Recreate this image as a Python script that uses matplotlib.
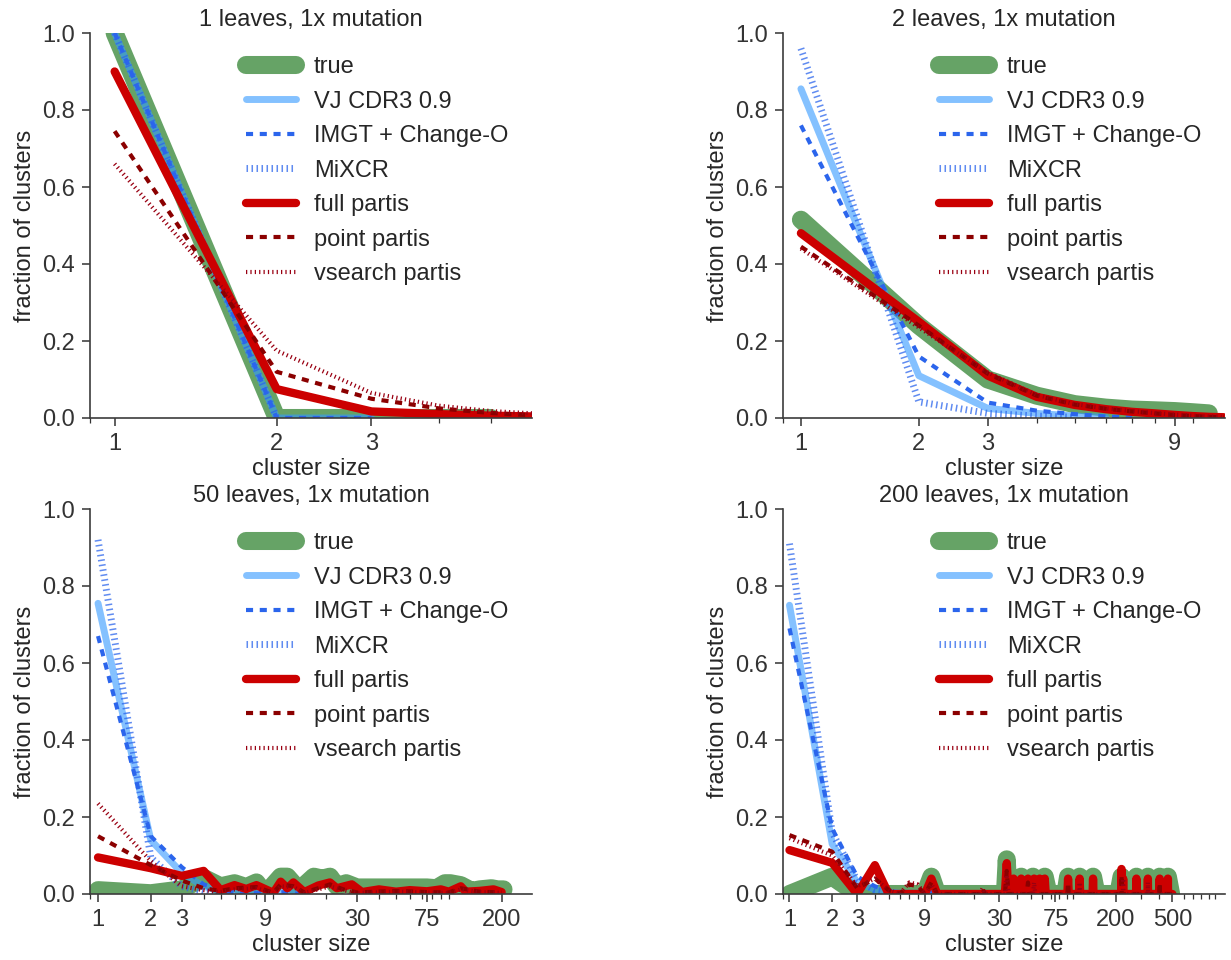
import matplotlib
matplotlib.use('Agg')
import matplotlib.pyplot as plt
import matplotlib.ticker as mticker
import numpy as np

plt.rcParams['font.family'] = ['Liberation Sans', 'DejaVu Sans']
plt.rcParams['text.color'] = '#262626'
plt.rcParams['axes.labelcolor'] = '#262626'
plt.rcParams['xtick.color'] = '#333333'
plt.rcParams['ytick.color'] = '#333333'

methods = ['true', 'VJ CDR3 0.9', 'IMGT + Change-O', 'MiXCR', 'full partis', 'point partis', 'vsearch partis']

# ---- 1 leaves ----
p1_true_x = [1, 2, 3, 4, 5]
p1_true = [1.0, 0.0, 0.0, 0.0, 0.0]
p1_vj_x = [1, 2, 3]
p1_vj = [1.0, 0.0, 0.0]
p1_imgt_x = [1, 2, 3]
p1_imgt = [1.0, 0.0, 0.0]
p1_mixcr_x = [1, 2]
p1_mixcr = [1.0, 0.0]
p1_part_x = [1, 2, 3, 4, 5, 6]
p1_full = [0.90, 0.075, 0.017, 0.010, 0.006, 0.004]
p1_point = [0.745, 0.12, 0.05, 0.025, 0.013, 0.007]
p1_vsearch = [0.66, 0.175, 0.065, 0.032, 0.018, 0.012]

# ---- 2 leaves ----
p2_true_x = [1, 2, 3, 4, 5, 6, 7, 8, 9, 10, 11]
p2_true = [0.515, 0.24, 0.10, 0.058, 0.036, 0.027, 0.022, 0.02, 0.018, 0.015, 0.012]
p2_vj_x = [1, 2, 3, 4, 5, 6]
p2_vj = [0.855, 0.11, 0.025, 0.012, 0.005, 0.002]
p2_imgt_x = [1, 2, 3, 4, 5, 6, 7]
p2_imgt = [0.76, 0.16, 0.04, 0.019, 0.01, 0.004, 0.001]
p2_mixcr_x = [1, 2, 3, 4, 5]
p2_mixcr = [0.96, 0.042, 0.012, 0.005, 0.002]
p2_part_x = [1, 2, 3, 4, 5, 6, 7, 8, 9, 10, 11, 12]
p2_full = [0.48, 0.25, 0.11, 0.055, 0.034, 0.023, 0.016, 0.012, 0.008, 0.005, 0.003, 0.002]
p2_point = [0.445, 0.24, 0.115, 0.058, 0.035, 0.024, 0.017, 0.012, 0.008, 0.005, 0.003, 0.002]
p2_vsearch = [0.44, 0.235, 0.118, 0.06, 0.036, 0.025, 0.018, 0.013, 0.009, 0.006, 0.004, 0.003]

# ---- 50 leaves ----
p3_true_x = [1, 2, 3, 4, 5, 6, 7, 8, 9, 11, 12, 14, 17, 19, 21, 23, 26, 30, 40, 50, 60, 75, 85, 95,
             102, 117, 135, 150, 175, 190, 205]
p3_true = [0.01, 0.002, 0.012, 0.042, 0.02, 0.028, 0.018, 0.03, 0.0, 0.045, 0.045, 0.01, 0.045, 0.04,
           0.045, 0.02, 0.028, 0.017, 0.017, 0.017, 0.017, 0.017, 0.015, 0.028, 0.028, 0.023, 0.008,
           0.012, 0.015, 0.012, 0.012]
p3_vj_x = [1, 2, 3, 4, 5, 6, 8, 12, 14]
p3_vj = [0.755, 0.14, 0.055, 0.02, 0.008, 0.003, 0.002, 0.004, 0.0]
p3_imgt_x = [1, 2, 3, 4, 5, 6, 8, 12, 14]
p3_imgt = [0.67, 0.15, 0.07, 0.025, 0.01, 0.004, 0.002, 0.005, 0.0]
p3_mixcr_x = [1, 2, 3, 4, 5]
p3_mixcr = [0.92, 0.095, 0.02, 0.006, 0.002]
p3_full_x = [1, 2, 3, 4, 5, 6, 7, 8, 10, 11, 12, 13, 15, 18, 21, 23, 28, 32, 40, 50, 60, 75, 90,
             100, 117, 125, 150, 180, 200]
p3_full = [0.095, 0.067, 0.047, 0.06, 0.01, 0.023, 0.013, 0.023, 0.003, 0.032, 0.015, 0.03, 0.005,
           0.022, 0.03, 0.015, 0.025, 0.005, 0.012, 0.006, 0.01, 0.007, 0.012, 0.006, 0.02, 0.006,
           0.008, 0.012, 0.005]
p3_point_x = [1, 2, 3, 4, 5, 6, 8, 10, 11, 13, 15, 18, 21, 25, 30, 50, 75, 100, 117, 150, 200]
p3_point = [0.15, 0.075, 0.035, 0.015, 0.008, 0.015, 0.018, 0.003, 0.025, 0.02, 0.004, 0.015, 0.025,
            0.012, 0.004, 0.008, 0.005, 0.004, 0.015, 0.006, 0.004]
p3_vsearch_x = [1, 2, 3, 4, 5, 6, 8, 10, 11, 13, 15, 18, 21, 25, 30, 50, 75, 100, 117, 150, 200]
p3_vsearch = [0.235, 0.085, 0.02, 0.01, 0.005, 0.012, 0.015, 0.002, 0.02, 0.018, 0.003, 0.012, 0.02,
              0.01, 0.003, 0.006, 0.004, 0.003, 0.012, 0.005, 0.003]

# ---- 200 leaves ----
p4_true_x = [1, 2, 3, 9, 10, 11, 33, 34, 35, 41, 43, 46, 49, 52, 56, 60, 63, 67, 88, 92, 97, 106,
             111, 117, 131, 138, 146, 208, 219, 230, 265, 279, 295, 320, 336, 355, 385, 407, 430,
             445, 465, 490]
p4_true = [0.0, 0.045, 0.0, 0.0, 0.045, 0.0, 0.0, 0.09, 0.0, 0.0, 0.045, 0.0, 0.0, 0.045, 0.0, 0.0,
           0.045, 0.0, 0.0, 0.045, 0.0, 0.0, 0.045, 0.0, 0.0, 0.045, 0.0, 0.0, 0.045, 0.0, 0.0, 0.045,
           0.0, 0.0, 0.045, 0.0, 0.0, 0.045, 0.0, 0.0, 0.045, 0.0]
p4_vj_x = [1, 2, 3, 4, 5, 6, 9, 10, 11]
p4_vj = [0.75, 0.13, 0.03, 0.012, 0.005, 0.002, 0.002, 0.005, 0.0]
p4_imgt_x = [1, 2, 3, 4, 5, 6, 10, 11]
p4_imgt = [0.69, 0.17, 0.045, 0.02, 0.008, 0.003, 0.004, 0.0]
p4_mixcr_x = [1, 2, 3, 4, 5, 6]
p4_mixcr = [0.91, 0.16, 0.035, 0.01, 0.004, 0.001]
p4_full_x = [1, 2, 3, 4, 5, 9, 10, 11, 33, 34, 35, 37, 38, 39, 42, 43, 44, 47, 48, 49, 52, 53, 54,
             57, 58, 59, 62, 63, 64, 91, 92, 93, 110, 111, 112, 137, 138, 139, 218, 219, 220, 224,
             225, 226, 278, 279, 280, 335, 336, 337, 406, 407, 408, 464, 465, 466, 500]
p4_full = [0.114, 0.081, 0.0, 0.075, 0.0, 0.0, 0.04, 0.0, 0.0, 0.08, 0.0, 0.0, 0.04, 0.0, 0.0, 0.04,
           0.0, 0.0, 0.04, 0.0, 0.0, 0.04, 0.0, 0.0, 0.04, 0.0, 0.0, 0.04, 0.0, 0.0, 0.04, 0.0, 0.0,
           0.04, 0.0, 0.0, 0.04, 0.0, 0.0, 0.065, 0.0, 0.0, 0.04, 0.0, 0.0, 0.04, 0.0, 0.0, 0.04, 0.0,
           0.0, 0.04, 0.0, 0.0, 0.04, 0.0, 0.0]
p4_point_x = [1, 2, 3, 4, 5, 6, 7, 8, 9, 10, 11, 22, 23, 24, 33, 34, 35, 47, 48, 49, 91, 92, 93,
              218, 219, 220, 406, 407, 408, 500]
p4_point = [0.153, 0.11, 0.015, 0.04, 0.01, 0.0, 0.025, 0.02, 0.0, 0.03, 0.0, 0.0, 0.012, 0.0, 0.0,
            0.06, 0.0, 0.0, 0.03, 0.0, 0.0, 0.03, 0.0, 0.0, 0.05, 0.0, 0.0, 0.03, 0.0, 0.0]
p4_vsearch_x = [1, 2, 3, 4, 5, 6, 7, 8, 9, 10, 11, 22, 23, 24, 33, 34, 35, 52, 53, 54, 110, 111,
                112, 224, 225, 226, 335, 336, 337, 500]
p4_vsearch = [0.145, 0.10, 0.02, 0.04, 0.01, 0.0, 0.03, 0.025, 0.0, 0.025, 0.0, 0.0, 0.015, 0.0,
              0.0, 0.05, 0.0, 0.0, 0.03, 0.0, 0.0, 0.03, 0.0, 0.0, 0.04, 0.0, 0.0, 0.03, 0.0, 0.0]

panels = [
    dict(title='1 leaves, 1x mutation', xlim=(0.9, 5.96), ticks=[1, 2, 3],
         series=[(p1_true_x, p1_true), (p1_vj_x, p1_vj), (p1_imgt_x, p1_imgt), (p1_mixcr_x, p1_mixcr),
                 (p1_part_x, p1_full), (p1_part_x, p1_point), (p1_part_x, p1_vsearch)]),
    dict(title='2 leaves, 1x mutation', xlim=(0.9, 12.1), ticks=[1, 2, 3, 9],
         series=[(p2_true_x, p2_true), (p2_vj_x, p2_vj), (p2_imgt_x, p2_imgt), (p2_mixcr_x, p2_mixcr),
                 (p2_part_x, p2_full), (p2_part_x, p2_point), (p2_part_x, p2_vsearch)]),
    dict(title='50 leaves, 1x mutation', xlim=(0.9, 298), ticks=[1, 2, 3, 9, 30, 75, 200],
         series=[(p3_true_x, p3_true), (p3_vj_x, p3_vj), (p3_imgt_x, p3_imgt), (p3_mixcr_x, p3_mixcr),
                 (p3_full_x, p3_full), (p3_point_x, p3_point), (p3_vsearch_x, p3_vsearch)]),
    dict(title='200 leaves, 1x mutation', xlim=(0.9, 1175), ticks=[1, 2, 3, 9, 30, 75, 200, 500],
         series=[(p4_true_x, p4_true), (p4_vj_x, p4_vj), (p4_imgt_x, p4_imgt), (p4_mixcr_x, p4_mixcr),
                 (p4_full_x, p4_full), (p4_point_x, p4_point), (p4_vsearch_x, p4_vsearch)]),
]

styles = [
    dict(color='#006600', alpha=0.6, lw=13, ls='-', solid_capstyle='round', solid_joinstyle='round'),
    dict(color='#3399ff', alpha=0.6, lw=5, ls='-', solid_capstyle='round', solid_joinstyle='round'),
    dict(color='#2b65ec', lw=3, ls=(0, (1.7, 1.6)), dash_capstyle='butt'),
    dict(color='#2b65ec', alpha=0.75, lw=5, ls=(0, (0.22, 0.5)), dash_capstyle='butt'),
    dict(color='#cc0000', lw=6, ls='-', solid_capstyle='round', solid_joinstyle='round'),
    dict(color='#8b0000', lw=3, ls=(0, (1.7, 1.6)), dash_capstyle='butt'),
    dict(color='#990012', lw=3, ls=(0, (0.3, 0.75)), dash_capstyle='butt'),
]

fig = plt.figure(figsize=(12.31, 9.6), dpi=100)
W, H = 1231.0, 960.0
rects = [(90, 33), (783, 33), (90, 509), (783, 509)]

for (px, py), p in zip(rects, panels):
    ax = fig.add_axes([px / W, 1 - (py + 385) / H, 442 / W, 385 / H])
    for (xs, ys), lab, st in zip(p['series'], methods, styles):
        ax.plot(xs, ys, label=lab, **st)
    ax.set_xscale('log')
    ax.set_xlim(*p['xlim'])
    ax.set_ylim(0, 1.0)
    ax.xaxis.set_major_locator(mticker.FixedLocator(p['ticks']))
    ax.xaxis.set_major_formatter(mticker.FixedFormatter([str(t) for t in p['ticks']]))
    ax.xaxis.set_minor_locator(mticker.LogLocator(base=10, subs=np.arange(1, 10), numticks=50))
    ax.xaxis.set_minor_formatter(mticker.NullFormatter())
    ax.set_yticks([0.0, 0.2, 0.4, 0.6, 0.8, 1.0])
    ax.set_yticklabels(['0.0', '0.2', '0.4', '0.6', '0.8', '1.0'])
    for s in ['top', 'right']:
        ax.spines[s].set_visible(False)
    for s in ['left', 'bottom']:
        ax.spines[s].set_color('#3c3c3c')
        ax.spines[s].set_linewidth(1.2)
    ax.tick_params(which='major', length=6, width=1.1, pad=5, labelsize=17, direction='out')
    ax.tick_params(which='minor', length=3.5, width=0.9, direction='out')
    ax.set_xlabel('cluster size', fontsize=17, labelpad=2)
    ax.set_ylabel('fraction of clusters', fontsize=17, labelpad=4)
    ax.set_title(p['title'], fontsize=17, pad=5)
    ax.legend(loc='upper left', bbox_to_anchor=(0.354, 0.94), frameon=False, fontsize=17,
              borderaxespad=0, borderpad=0, handlelength=2.1, handletextpad=0.75, labelspacing=0.53)

fig.savefig('out.png', dpi=100)
